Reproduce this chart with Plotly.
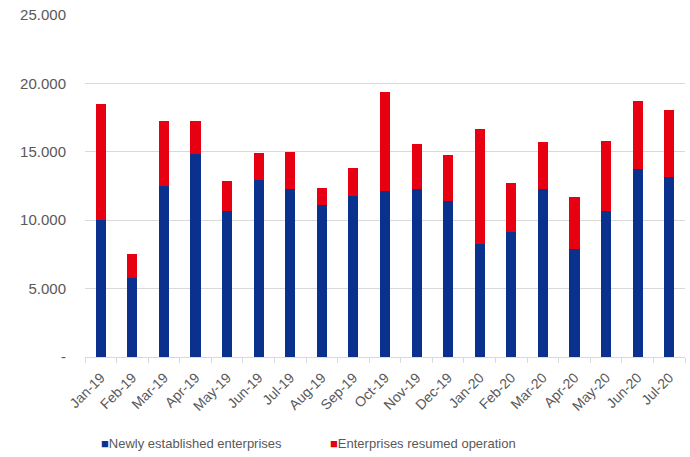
import plotly.graph_objects as go

months = ["Jan-19", "Feb-19", "Mar-19", "Apr-19", "May-19", "Jun-19", "Jul-19",
          "Aug-19", "Sep-19", "Oct-19", "Nov-19", "Dec-19", "Jan-20", "Feb-20",
          "Mar-20", "Apr-20", "May-20", "Jun-20", "Jul-20"]
newly_established = [10000, 5800, 12480, 14820, 10700, 12970, 12260,
                     11090, 11770, 12160, 12260, 11380, 8260, 9140,
                     12260, 7870, 10700, 13740, 13160]
resumed_operation = [8520, 1760, 4770, 2430, 2140, 1940, 2750,
                     1290, 2080, 7240, 3340, 3420, 8410, 3610,
                     3430, 3800, 5120, 5000, 4900]
series_names = ["Newly established enterprises", "Enterprises resumed operation"]

y_tickvals = [0, 5000, 10000, 15000, 20000, 25000]
y_ticktext = ["-", "5.000", "10.000", "15.000", "20.000", "25.000"]

BLUE = "#0b318f"
RED = "#e60012"
TEXT = "#595959"
GRID = "#d9d9d9"
FONT = "Liberation Sans, Arial, sans-serif"

fig = go.Figure()
for values, name, color in [(newly_established, series_names[0], BLUE),
                            (resumed_operation, series_names[1], RED)]:
    fig.add_trace(go.Bar(x=months, y=values, name=name, showlegend=False,
                         marker=dict(color=color, line=dict(width=0))))
    # legend entry: small coloured square glyph right next to the label
    fig.add_trace(go.Scatter(
        x=[None], y=[None], mode="markers",
        marker=dict(opacity=0, color="white"),
        name=f"<span style='color:{color}'>■</span>{name}",
        hoverinfo="skip",
    ))

fig.update_layout(
    barmode="stack",
    bargap=0.68,
    width=690, height=457,
    margin=dict(l=85, r=5, t=15, b=100, autoexpand=False),
    paper_bgcolor="white", plot_bgcolor="white",
    font=dict(family=FONT, color=TEXT, size=13),
    legend=dict(orientation="h", xref="container", yref="container",
                x=61 / 690, xanchor="left", y=1 - 443 / 457, yanchor="middle",
                font=dict(size=13, color=TEXT), traceorder="normal",
                entrywidth=184, entrywidthmode="pixels",
                bgcolor="rgba(0,0,0,0)"),
)
fig.update_xaxes(
    type="category", tickangle=-45, tickfont=dict(size=14, color=TEXT),
    showline=True, linecolor=GRID, linewidth=1,
    ticks="outside", tickson="boundaries", ticklen=5, tickcolor=GRID,
    showgrid=False, automargin=False, ticklabelstandoff=6,
)
fig.update_yaxes(
    range=[0, 25000], tickvals=y_tickvals, ticktext=y_ticktext,
    tickfont=dict(size=15, color=TEXT),
    showgrid=True, gridcolor=GRID, gridwidth=1, zeroline=False,
    ticks="", ticklabelstandoff=18, automargin=False,
)

fig.write_html("out.html")
